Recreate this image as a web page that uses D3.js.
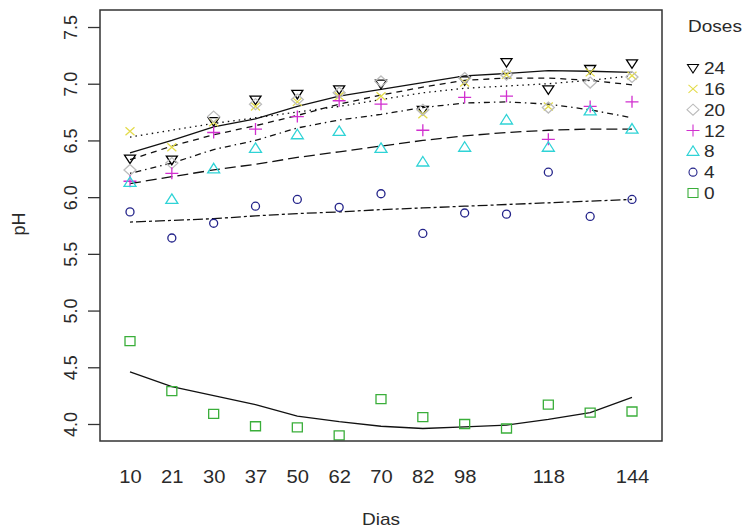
<!DOCTYPE html>
<html>
<head>
<meta charset="utf-8">
<script src="https://cdn.jsdelivr.net/npm/d3@7"></script>
<style>
  body { margin: 0; background: #fff; }
  text { font-family: "Liberation Sans", Arial, sans-serif; fill: #2a2a2a; font-weight: normal; }
</style>
</head>
<body>
<div id="ChartArea"></div>
<script>
// data (pH by day, one series per dose)
const days = ["10","21","30","37","50","62","70","82","98","110","118","130","144"];
const dayLabels = ["10","21","30","37","50","62","70","82","98","118","144"];
const doses = ["24","16","20","12","8","4","0"];
const yTicks = [4.0, 4.5, 5.0, 5.5, 6.0, 6.5, 7.0, 7.5];

const pH24 = [6.34,6.33,6.67,6.86,6.91,6.95,7.00,6.77,7.03,7.19,6.95,7.13,7.18];
const pH16 = [6.58,6.44,6.66,6.80,6.84,6.89,6.89,6.73,7.01,7.08,6.80,7.10,7.07];
const pH20 = [6.24,6.30,6.71,6.82,6.86,6.92,7.02,6.77,7.05,7.08,6.79,7.01,7.06];
const pH12 = [6.14,6.21,6.57,6.60,6.71,6.85,6.82,6.59,6.88,6.89,6.51,6.80,6.84];
const pH8  = [6.13,5.98,6.25,6.43,6.55,6.58,6.43,6.31,6.44,6.68,6.44,6.76,6.60];
const pH4  = [5.87,5.64,5.77,5.92,5.98,5.91,6.03,5.68,5.86,5.85,6.22,5.83,5.98];
const pH0  = [4.73,4.29,4.09,3.98,3.97,3.90,4.22,4.06,4.00,3.96,4.17,4.10,4.11];

// fitted curves (as drawn in the picture)
const fit24 = [6.39,6.50,6.62,6.69,6.80,6.89,6.95,7.01,7.07,7.09,7.115,7.11,7.10];
const fit20 = [6.33,6.45,6.55,6.63,6.72,6.82,6.90,6.97,7.03,7.05,7.05,7.03,6.99];
const fit16 = [6.53,6.59,6.65,6.70,6.75,6.80,6.86,6.92,6.96,6.98,7.00,7.03,7.07];
const fit12 = [6.21,6.30,6.42,6.50,6.61,6.68,6.73,6.79,6.83,6.84,6.82,6.77,6.70];
const fit8  = [6.12,6.18,6.24,6.29,6.35,6.40,6.45,6.50,6.54,6.57,6.59,6.60,6.60];
const fit4  = [5.78,5.795,5.81,5.835,5.855,5.87,5.89,5.905,5.92,5.935,5.95,5.965,5.98];
const fit0  = [4.46,4.33,4.25,4.17,4.07,4.02,3.98,3.96,3.975,3.99,4.04,4.10,4.235];

// series table: dose -> points, fit, style
const series = [
  {dose: "24", pts: pH24, fit: fit24, color: "#000000", shape: "triDown", dash: null},
  {dose: "16", pts: pH16, fit: fit16, color: "#e3db4a", shape: "cross",   dash: "1.5,4"},
  {dose: "20", pts: pH20, fit: fit20, color: "#bcbcbc", shape: "diamond", dash: "6,5"},
  {dose: "12", pts: pH12, fit: fit12, color: "#d12fcf", shape: "plus",    dash: "1.5,4,6,4"},
  {dose: "8",  pts: pH8,  fit: fit8,  color: "#2fd3d6", shape: "triUp",   dash: "11,5"},
  {dose: "4",  pts: pH4,  fit: fit4,  color: "#24248a", shape: "circle",  dash: "3,3,10,3"},
  {dose: "0",  pts: pH0,  fit: fit0,  color: "#3aae3a", shape: "square",  dash: null}
];

const W = 748, H = 531;
const box = {left: 100, top: 10, right: 662, bottom: 441};
const sx = 1.12; // horizontal stretch of the original text

const svg = d3.select("#ChartArea").append("svg")
    .attr("width", W).attr("height", H);
svg.append("rect").attr("width", W).attr("height", H).attr("fill", "#fff");

const x = d3.scalePoint().domain(days).range([box.left + 30, box.right - 30]);
const y = d3.scaleLinear().domain([3.85, 7.65]).range([box.bottom, box.top]);

// symbol paths, R style (pch 6,4,5,3,2,1,0)
function symbolPath(shape) {
  const p = d3.path();
  if (shape === "triDown") {
    p.moveTo(-5.5, -3.5); p.lineTo(5.5, -3.5); p.lineTo(0, 5); p.closePath();
  } else if (shape === "triUp") {
    p.moveTo(0, -5.5); p.lineTo(6, 4); p.lineTo(-6, 4); p.closePath();
  } else if (shape === "cross") {
    p.moveTo(-4.5, -4); p.lineTo(4.5, 4); p.moveTo(-4.5, 4); p.lineTo(4.5, -4);
  } else if (shape === "plus") {
    p.moveTo(-6.5, 0); p.lineTo(6.5, 0); p.moveTo(0, -6); p.lineTo(0, 6);
  } else if (shape === "diamond") {
    p.moveTo(0, -5.5); p.lineTo(6, 0); p.lineTo(0, 5.5); p.lineTo(-6, 0); p.closePath();
  } else if (shape === "circle") {
    p.moveTo(4, 0); p.arc(0, 0, 4, 0, 2 * Math.PI);
  } else if (shape === "square") {
    p.rect(-5, -4.5, 10, 9);
  }
  return p.toString();
}

// fitted lines
const line = d3.line()
    .x((d, i) => x(days[i]))
    .y(d => y(d));

svg.append("g").selectAll("path")
  .data(series)
  .enter().append("path")
    .attr("d", d => line(d.fit))
    .attr("fill", "none")
    .attr("stroke", "#111")
    .attr("stroke-width", 1.3)
    .attr("stroke-dasharray", d => d.dash);

// points
series.forEach(function(s) {
  svg.append("g").selectAll("path")
    .data(s.pts)
    .enter().append("path")
      .attr("transform", (d, i) => "translate(" + x(days[i]) + "," + y(d) + ")")
      .attr("d", symbolPath(s.shape))
      .attr("fill", "none")
      .attr("stroke", s.color)
      .attr("stroke-width", 1.3);
});

// plot box
svg.append("rect")
    .attr("x", box.left).attr("y", box.top)
    .attr("width", box.right - box.left).attr("height", box.bottom - box.top)
    .attr("fill", "none").attr("stroke", "#333").attr("stroke-width", 1.5);

// y axis
const yAxis = svg.append("g")
    .attr("transform", "translate(" + box.left + ",0)")
    .call(d3.axisLeft(y).tickValues(yTicks).tickSize(12).tickSizeOuter(0).tickFormat(d3.format(".1f")));
yAxis.select(".domain").remove();
yAxis.selectAll(".tick line").attr("stroke", "#333").attr("stroke-width", 1.3);
yAxis.selectAll(".tick text")
    .attr("x", null).attr("dy", null)
    .attr("text-anchor", "middle")
    .attr("transform", "translate(-23,0) rotate(-90)")
    .style("font-size", "18px")
    .style("font-family", "'Liberation Sans', Arial, sans-serif")
    .attr("fill", "#2a2a2a");

// x axis: labels only, R drops the ones that would overlap
const xAxis = svg.append("g")
    .attr("transform", "translate(0," + box.bottom + ")")
    .call(d3.axisBottom(x).tickSize(0).tickFormat(d => dayLabels.includes(d) ? d : ""));
xAxis.select(".domain").remove();
xAxis.selectAll(".tick text")
    .attr("y", 42).attr("dy", null)
    .attr("transform", "scale(" + sx + ",1)")
    .style("font-size", "18px")
    .style("font-family", "'Liberation Sans', Arial, sans-serif")
    .attr("fill", "#2a2a2a");

// axis titles
svg.append("text")
    .attr("transform", "translate(" + (box.left + box.right) / 2 + ",525) scale(" + sx + ",1)")
    .attr("text-anchor", "middle")
    .style("font-size", "17px")
    .text("Dias");

svg.append("text")
    .attr("transform", "translate(25,224) rotate(-90)")
    .attr("text-anchor", "middle")
    .style("font-size", "18px")
    .text("pH");

// legend
const legend = svg.append("g").attr("transform", "translate(688,0)");
legend.append("text")
    .attr("transform", "translate(0,32) scale(" + sx + ",1)")
    .style("font-size", "17px")
    .text("Doses");

const ly = d3.scalePoint().domain(doses).range([68, 193]);
const item = legend.selectAll(".item")
  .data(series)
  .enter().append("g")
    .attr("class", "item")
    .attr("transform", d => "translate(0," + ly(d.dose) + ")");
item.append("path")
    .attr("transform", "translate(5,0)")
    .attr("d", d => symbolPath(d.shape))
    .attr("fill", "none")
    .attr("stroke", d => d.color)
    .attr("stroke-width", 1.1);
item.append("text")
    .attr("transform", "translate(16,6) scale(" + sx + ",1)")
    .style("font-size", "17px")
    .text(d => d.dose);
</script>
</body>
</html>
